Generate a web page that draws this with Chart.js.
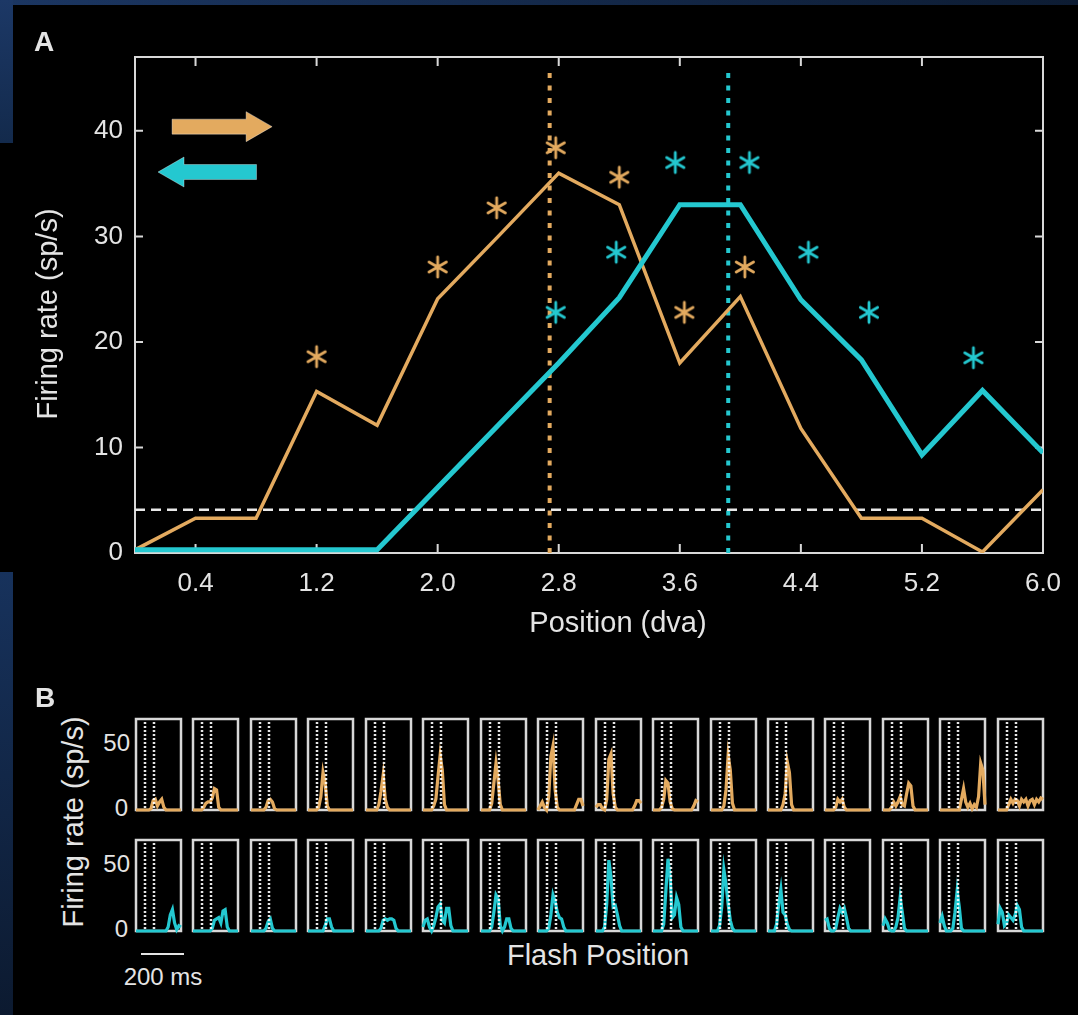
<!DOCTYPE html>
<html>
<head>
<meta charset="utf-8">
<title>Firing rate vs flash position</title>
<script src="https://cdn.jsdelivr.net/npm/chart.js@4.4.1/dist/chart.umd.min.js"></script>
<style>
  html, body { margin: 0; padding: 0; background: #000; }
  #page { position: relative; width: 1078px; height: 1015px; overflow: hidden; background: #000;
          font-family: "Liberation Sans", Arial, sans-serif; color: #e4e4e4; }
  .edge { position: absolute; }
  .txt { position: absolute; white-space: nowrap; line-height: 1; transform: translate(-50%, -50%); }
  .vert { transform: translate(-50%, -50%) rotate(-90deg); }
  .num { position: absolute; white-space: nowrap; line-height: 1; transform: translate(-100%, -50%); font-size: 24px; }
  canvas { position: absolute; }
</style>
</head>
<body>
<div id="page">
  <div class="edge" style="left:0;top:0;width:1078px;height:5px;background:linear-gradient(90deg,#1b3662,#0d1c33)"></div>
  <div class="edge" style="left:0;top:0;width:13px;height:143px;background:linear-gradient(180deg,#1c3866,#132a4c)"></div>
  <div class="edge" style="left:0;top:572px;width:13px;height:443px;background:linear-gradient(180deg,#17325c,#0c1a30)"></div>

  <canvas id="chartA" width="1078" height="660" style="left:0;top:0"></canvas>

  <div class="txt" style="left:44px;top:42px;font-weight:bold;font-size:28px">A</div>
  <div class="txt vert" style="left:47px;top:314px;font-size:29px">Firing rate (sp/s)</div>
  <div class="txt" style="left:618px;top:622px;font-size:29px">Position (dva)</div>

  <div class="txt" style="left:45px;top:698px;font-weight:bold;font-size:28px">B</div>
  <div class="txt vert" style="left:73px;top:822px;font-size:29px">Firing rate (sp/s)</div>
  <div class="txt" style="left:598px;top:955px;font-size:29px">Flash Position</div>
  <div id="scaleBar" class="edge" style="background:#e4e4e4;height:2px"></div>
  <div class="txt" style="left:163px;top:977px;font-size:24px">200 ms</div>
</div>

<script>
// ---- panel A: tuning curves ----
const positions = [0, 0.4, 0.8, 1.2, 1.6, 2.0, 2.4, 2.8, 3.2, 3.6, 4.0, 4.4, 4.8, 5.2, 5.6, 6.0];
const rightwardRate = [0.3, 3.3, 3.3, 15.3, 12.1, 24.1, 30.0, 36.0, 33.0, 18.0, 24.3, 11.8, 3.3, 3.3, 0.1, 6.0];
const leftwardRate  = [0.3, 0.3, 0.3, 0.3, 0.3, 6.2, 12.1, 18.0, 24.2, 33.0, 33.0, 24.0, 18.3, 9.3, 15.4, 9.5];

// significance markers
const rightStarX = [1.2, 2.0, 2.39, 2.78, 3.2, 3.63, 4.03];
const rightStarY = [18.6, 27.1, 32.7, 38.4, 35.6, 22.8, 27.1];
const leftStarX  = [2.78, 3.18, 3.57, 4.06, 4.45, 4.85, 5.54];
const leftStarY  = [22.8, 28.5, 37.0, 37.0, 28.5, 22.8, 18.5];

const spontaneousRate = 4.1;
const rightCenter = 2.74;
const leftCenter = 3.92;

const xTicks = [0.4, 1.2, 2.0, 2.8, 3.6, 4.4, 5.2, 6.0];
const yTicks = [0, 10, 20, 30, 40];

// ---- panel B: PSTHs per flash position (10 ms bins) ----
const psthTime = [0, 10, 20, 30, 40, 50, 60, 70, 80, 90, 100, 110, 120, 130, 140, 150, 160, 170, 180, 190, 200, 210];
const flashMarks = [42, 84];
const psthRight = [
  [0,0,0,0,0,0,0,1,7,8,3,6,8,2,0,0,0,0,0,0,0,0],
  [0,0,0,0,0,2,5,6,6,9,16,15,2,0,0,0,0,0,0,0,0,0],
  [0,0,0,0,0,0,0,2,7,8,6,1,0,0,0,0,0,0,0,0,0,0],
  [0,0,0,0,0,2,10,28,20,3,0,0,0,0,0,0,0,0,0,0,0,0],
  [0,0,0,0,0,0,4,14,26,8,2,0,0,0,0,0,0,0,0,0,0,0],
  [0,0,0,0,0,3,8,25,41,30,4,0,0,0,0,0,0,0,0,0,0,0],
  [0,0,0,0,0,5,20,35,22,4,0,0,0,0,0,0,0,0,0,0,0,0],
  [0,3,6,2,0,10,40,48,15,2,0,0,0,0,0,0,0,0,4,8,8,3],
  [2,4,4,1,0,8,38,42,12,2,0,0,0,0,0,0,0,0,3,7,7,5],
  [0,0,0,0,2,8,22,20,6,1,0,0,0,0,0,0,0,0,0,3,7,6],
  [0,0,0,0,0,0,3,15,41,30,5,0,0,0,0,0,0,0,0,0,0,0],
  [0,0,0,0,0,0,0,4,12,36,28,4,0,0,0,0,0,0,0,0,0,0],
  [0,0,0,0,0,2,8,6,8,2,0,0,0,0,0,0,0,0,0,0,0,0],
  [0,0,0,0,2,6,3,6,10,4,3,12,20,18,3,0,0,0,0,0,0,0],
  [0,0,0,0,0,0,0,0,0,0,8,16,6,2,5,1,4,2,10,35,30,4],
  [0,0,0,0,0,4,8,5,8,7,3,8,6,8,3,7,8,4,8,6,9,8]
];
const psthLeft = [
  [0,0,0,0,0,0,0,0,0,0,0,0,0,0,0,3,12,16,6,1,4,3],
  [0,0,0,0,0,0,0,0,0,2,8,9,10,6,15,16,3,0,0,0,0,0],
  [0,0,0,0,0,0,0,2,7,9,2,0,0,0,0,0,0,0,0,0,0,0],
  [0,0,0,0,0,0,0,0,4,9,9,3,0,0,0,0,0,0,0,0,0,0],
  [0,0,0,0,0,0,0,2,8,9,8,9,9,8,2,0,0,0,0,0,0,0],
  [3,8,9,3,0,4,10,18,20,8,6,17,17,4,0,0,0,0,0,0,0,0],
  [0,0,0,0,0,3,14,27,24,4,0,3,9,9,2,0,0,0,0,0,0,0],
  [0,0,0,0,0,2,12,27,22,14,10,9,3,0,0,0,0,0,0,0,0,0],
  [0,0,0,0,3,20,53,40,18,19,12,4,0,0,0,0,0,0,0,0,0,0],
  [0,0,0,0,0,5,30,54,40,10,12,25,20,3,0,0,0,0,0,0,0,0],
  [0,0,0,0,4,18,46,35,20,8,2,0,0,0,0,0,0,0,0,0,0,0],
  [0,0,0,0,5,20,31,14,12,5,1,0,0,0,0,0,0,0,0,0,0,0],
  [8,9,2,0,0,2,10,17,14,17,10,2,0,0,0,0,0,0,0,0,0,0],
  [4,9,6,1,0,0,3,10,25,14,2,0,0,0,0,0,0,0,0,0,0,0],
  [6,11,4,0,0,0,2,14,30,18,2,0,0,0,0,0,0,0,0,0,0,0],
  [5,17,14,4,6,12,10,8,12,19,16,3,0,0,0,0,0,0,0,0,0,0]
];

const ORANGE = "#e3aa5f";
const CYAN = "#24c8d0";
const AXIS = "#d8d8d8";
const TEXT = "#e4e4e4";
const FONT = "'Liberation Sans', Arial, sans-serif";

// six-armed asterisk used as a point style
function asterisk(color) {
  const c = document.createElement("canvas");
  c.width = c.height = 26;
  const g = c.getContext("2d");
  g.strokeStyle = color;
  g.lineWidth = 2.8;
  g.lineCap = "round";
  g.translate(13, 13);
  g.beginPath();
  for (let k = 0; k < 3; k++) {
    const a = Math.PI / 2 + k * Math.PI / 3;
    g.moveTo(Math.cos(a) * 10, Math.sin(a) * 10);
    g.lineTo(-Math.cos(a) * 10, -Math.sin(a) * 10);
  }
  g.stroke();
  return c;
}

function pts(xs, ys) {
  return xs.map((x, i) => ({ x: x, y: ys[i] }));
}

// direction arrows in the upper left, placed in data units
const arrows = [
  { from: 0.245, to: 0.906, rate: 40.4, color: ORANGE, dir: 1 },
  { from: 0.152, to: 0.803, rate: 36.1, color: CYAN, dir: -1 }
];

function drawArrow(ctx, x0, x1, y, color, dir) {
  const half = 7.5, headHalf = 15, headLen = 26;
  ctx.beginPath();
  if (dir > 0) {
    ctx.moveTo(x0, y - half);
    ctx.lineTo(x1 - headLen, y - half);
    ctx.lineTo(x1 - headLen, y - headHalf);
    ctx.lineTo(x1, y);
    ctx.lineTo(x1 - headLen, y + headHalf);
    ctx.lineTo(x1 - headLen, y + half);
    ctx.lineTo(x0, y + half);
  } else {
    ctx.moveTo(x1, y - half);
    ctx.lineTo(x0 + headLen, y - half);
    ctx.lineTo(x0 + headLen, y - headHalf);
    ctx.lineTo(x0, y);
    ctx.lineTo(x0 + headLen, y + headHalf);
    ctx.lineTo(x0 + headLen, y + half);
    ctx.lineTo(x1, y + half);
  }
  ctx.closePath();
  ctx.fillStyle = color;
  ctx.fill();
  ctx.lineWidth = 1;
  ctx.strokeStyle = "rgba(255,255,255,0.35)";
  ctx.stroke();
}

const frameA = {
  id: "frameA",
  beforeDatasetsDraw(chart) {
    const { ctx, chartArea: a, scales: { x, y } } = chart;
    ctx.save();
    ctx.strokeStyle = AXIS;
    ctx.lineWidth = 2;
    ctx.strokeRect(a.left, a.top, a.width, a.height);
    ctx.beginPath();
    x.ticks.forEach(t => {
      const px = x.getPixelForValue(t.value);
      ctx.moveTo(px, a.bottom); ctx.lineTo(px, a.bottom - 9);
      ctx.moveTo(px, a.top); ctx.lineTo(px, a.top + 9);
    });
    y.ticks.forEach(t => {
      const py = y.getPixelForValue(t.value);
      ctx.moveTo(a.left, py); ctx.lineTo(a.left + 8, py);
      ctx.moveTo(a.right, py); ctx.lineTo(a.right - 8, py);
    });
    ctx.stroke();
    ctx.restore();
  },
  afterDatasetsDraw(chart) {
    const { ctx, scales: { x, y } } = chart;
    ctx.save();
    arrows.forEach(ar => {
      drawArrow(ctx, x.getPixelForValue(ar.from), x.getPixelForValue(ar.to),
                y.getPixelForValue(ar.rate), ar.color, ar.dir);
    });
    ctx.restore();
  }
};

new Chart(document.getElementById("chartA"), {
  type: "line",
  data: {
    datasets: [
      { data: pts(rightStarX, rightStarY), showLine: false, pointStyle: asterisk(ORANGE), pointRadius: 10, order: -2 },
      { data: pts(leftStarX, leftStarY), showLine: false, pointStyle: asterisk(CYAN), pointRadius: 10, order: -1 },
      { data: pts(positions, leftwardRate), borderColor: CYAN, borderWidth: 5, pointRadius: 0, tension: 0, order: 0 },
      { data: pts(positions, rightwardRate), borderColor: ORANGE, borderWidth: 3.5, pointRadius: 0, tension: 0, order: 1 },
      { data: [{ x: 0, y: spontaneousRate }, { x: 6, y: spontaneousRate }], borderColor: "#e8e8e8",
        borderWidth: 2.5, borderDash: [10, 6], pointRadius: 0, order: 2 },
      { data: [{ x: rightCenter, y: 0 }, { x: rightCenter, y: 46 }], borderColor: ORANGE,
        borderWidth: 4, borderDash: [5, 7.5], pointRadius: 0, order: 3 },
      { data: [{ x: leftCenter, y: 0 }, { x: leftCenter, y: 46 }], borderColor: CYAN,
        borderWidth: 4, borderDash: [5, 7.5], pointRadius: 0, order: 3 }
    ]
  },
  options: {
    responsive: false,
    animation: false,
    devicePixelRatio: 1,
    layout: { padding: { top: 57, right: 35, left: 0, bottom: 0 } },
    scales: {
      x: {
        type: "linear", min: 0, max: 6,
        afterBuildTicks: s => { s.ticks = xTicks.map(v => ({ value: v })); },
        afterFit: s => { s.height = 107; },
        grid: { display: false, drawTicks: false },
        border: { display: false },
        ticks: { color: TEXT, font: { family: FONT, size: 26 }, padding: 15, maxRotation: 0,
                  callback: v => Number(v).toFixed(1) }
      },
      y: {
        type: "linear", min: 0, max: 47,
        afterBuildTicks: s => { s.ticks = yTicks.map(v => ({ value: v })); },
        afterFit: s => { s.width = 135; },
        grid: { display: false, drawTicks: false },
        border: { display: false },
        ticks: { color: TEXT, font: { family: FONT, size: 26 }, padding: 12, callback: v => String(v) }
      }
    },
    plugins: { legend: { display: false }, tooltip: { enabled: false } }
  },
  plugins: [frameA]
});

// ---- panel B: small multiples ----
const page = document.getElementById("page");
const boxW = 45, boxH = 91, pad = 4;
const firstLeft = 136, stride = 57.45;
const rowTops = [719, 840];

const psthFrame = {
  id: "psthFrame",
  beforeDatasetsDraw(chart) {
    const { ctx, chartArea: a } = chart;
    ctx.save();
    ctx.strokeStyle = AXIS;
    ctx.lineWidth = 2.5;
    ctx.strokeRect(a.left, a.top, a.width, a.height);
    ctx.restore();
  },
  afterDatasetsDraw(chart) {
    const { ctx, chartArea: a, scales: { x } } = chart;
    ctx.save();
    ctx.strokeStyle = "rgba(255,255,255,0.9)";
    ctx.lineWidth = 2.5;
    ctx.setLineDash([2, 2]);
    ctx.beginPath();
    flashMarks.forEach(t => {
      const px = Math.round(x.getPixelForValue(t));
      ctx.moveTo(px, a.top + 3);
      ctx.lineTo(px, a.bottom);
    });
    ctx.stroke();
    ctx.restore();
  }
};

function psthChart(values, color, left, top) {
  const cv = document.createElement("canvas");
  cv.width = boxW + 2 * pad;
  cv.height = boxH + 2 * pad;
  cv.style.left = (left - pad) + "px";
  cv.style.top = (top - pad) + "px";
  page.appendChild(cv);
  return new Chart(cv, {
    type: "line",
    data: { datasets: [{ data: psthTime.map((t, k) => ({ x: t, y: values[k] })), borderColor: color,
                         borderWidth: 3.2, pointRadius: 0, tension: 0, clip: false }] },
    options: {
      responsive: false, animation: false, devicePixelRatio: 1,
      layout: { padding: pad },
      scales: { x: { type: "linear", display: false, min: 0, max: 210 },
                y: { type: "linear", display: false, min: 0, max: 68 } },
      plugins: { legend: { display: false }, tooltip: { enabled: false } }
    },
    plugins: [psthFrame]
  });
}

function addNum(text, right, cy) {
  const d = document.createElement("div");
  d.className = "num";
  d.textContent = text;
  d.style.left = right + "px";
  d.style.top = cy + "px";
  page.appendChild(d);
}

[psthRight, psthLeft].forEach((rows, r) => {
  const color = r === 0 ? ORANGE : CYAN;
  rows.forEach((vals, i) => {
    const ch = psthChart(vals, color, firstLeft + i * stride, rowTops[r]);
    if (i === 0) {
      const top = rowTops[r] - pad;
      addNum("50", 130, top + ch.scales.y.getPixelForValue(50));
      addNum("0", 128, top + ch.scales.y.getPixelForValue(0) - 2);
      if (r === 1) {
        const bar = document.getElementById("scaleBar");
        const w = ch.scales.x.getPixelForValue(200) - ch.scales.x.getPixelForValue(0);
        bar.style.left = "141px";
        bar.style.top = "953px";
        bar.style.width = w + "px";
      }
    }
  });
});
</script>
</body>
</html>
